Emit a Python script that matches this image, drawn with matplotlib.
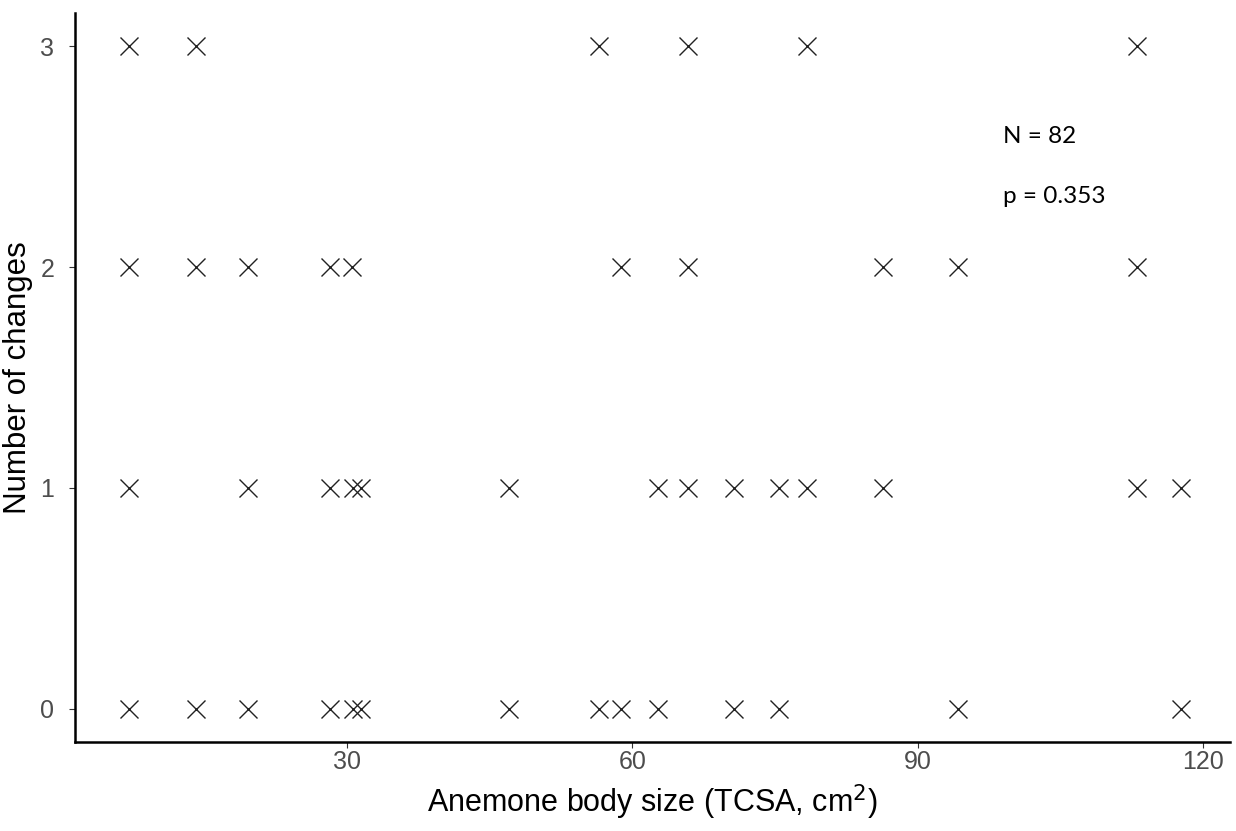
import matplotlib
matplotlib.use("Agg")
import matplotlib.pyplot as plt

# Data (anemone body size, TCSA cm^2) by number of changes
size_changes_0 = [7.1, 14.2, 19.6, 28.2, 30.6, 31.5, 47.0, 56.5, 58.8, 62.7, 70.7, 75.4, 94.2, 117.7]
size_changes_1 = [7.1, 19.6, 28.2, 30.6, 31.5, 47.0, 62.7, 65.8, 70.7, 75.4, 78.4, 86.3, 113.0, 117.7]
size_changes_2 = [7.1, 14.2, 19.6, 28.2, 30.5, 58.8, 65.8, 86.3, 94.2, 113.0]
size_changes_3 = [7.1, 14.2, 56.5, 65.8, 78.4, 113.0]
change_counts = [0, 1, 2, 3]
x_ticks = [30, 60, 90, 120]
annot_lines = ["N = 82", "p = 0.353"]

plt.rcParams['font.family'] = ['Liberation Sans', 'DejaVu Sans']

fig = plt.figure(figsize=(12.36, 8.31), dpi=100)
ax = fig.add_axes([75/1236, 1-742/831, (1230-75)/1236, (742-13)/831])

for count, sizes in zip(change_counts, [size_changes_0, size_changes_1, size_changes_2, size_changes_3]):
    ax.plot(sizes, [count]*len(sizes), linestyle='none', marker='x',
            markersize=12.5, markeredgewidth=1.0, color='#222222')

ax.set_xlim(1.44, 122.8)
ax.set_ylim(-0.15, 3.15)
ax.set_xticks(x_ticks)
ax.set_yticks(change_counts)

for s in ['top', 'right']:
    ax.spines[s].set_visible(False)
for s in ['left', 'bottom']:
    ax.spines[s].set_linewidth(1.8)
    ax.spines[s].set_color('black')

ax.tick_params(axis='both', colors='#333333', labelcolor='#4D4D4D',
               labelsize=18, length=4, width=0.8)
ax.tick_params(axis='x', pad=2)
ax.tick_params(axis='y', pad=11)

ax.set_xlabel("Anemone body size (TCSA, cm$^2$)", fontsize=22, color='black', labelpad=6)
ax.set_ylabel("Number of changes", fontsize=22.5, color='black')
ax.yaxis.set_label_coords(-0.036, 0.5)

ax.text(99.0, 2.59, annot_lines[0], fontsize=17.5, family=['Lato', 'DejaVu Sans'],
        va='center', ha='left', color='black')
ax.text(99.0, 2.32, annot_lines[1], fontsize=17.5, family=['Lato', 'DejaVu Sans'],
        va='center', ha='left', color='black')

fig.savefig("out.png", dpi=100, facecolor='white')
